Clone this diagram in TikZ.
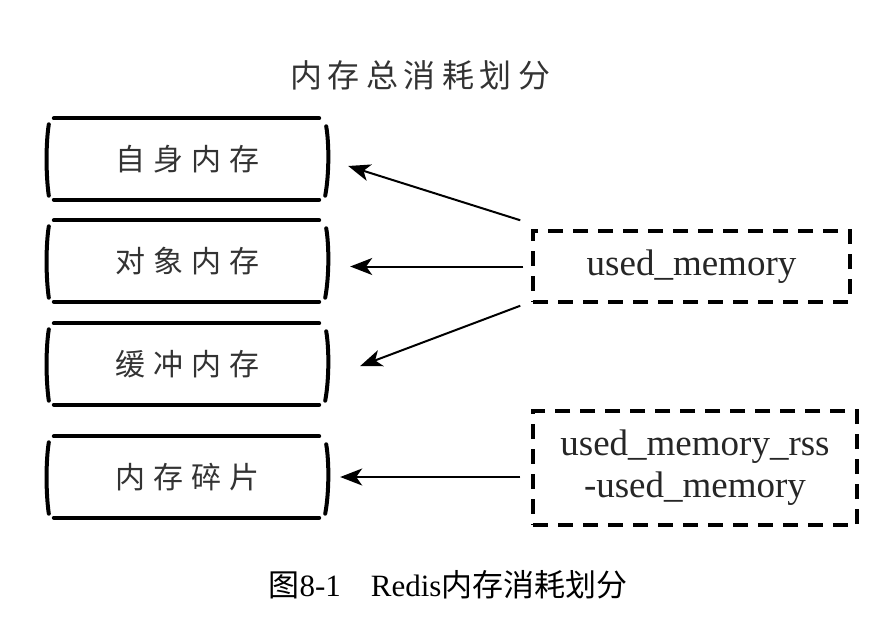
\documentclass[tikz,border=0pt]{standalone}
\usepackage{fontspec}
\setmainfont{Liberation Serif}
\newfontfamily\cjk{Noto Sans CJK SC}
\usetikzlibrary{arrows.meta}
\tikzset{
  membox/.style={minimum width=279pt, minimum height=81pt, inner sep=0pt, font=\cjk\fontsize{30}{34}\selectfont, text=black!80},
  skline/.style={line width=4pt, line cap=round},
  dbox/.style={draw, line width=3.5pt, dash pattern=on 15pt off 10pt, inner sep=0pt, font=\fontsize{37}{42}\selectfont, text=black!85, align=center},
  arr/.style={line width=2pt, -{Stealth[length=22pt,width=17pt,inset=6pt]}},
}
\begin{document}
\begin{tikzpicture}[x=1pt,y=-1pt]
\useasboundingbox (0,0) rectangle (895,619);
\node[font=\cjk\fontsize{32}{36}\selectfont, text=black!80] (title) at (420,75) {内\hspace{6pt}存\hspace{6pt}总\hspace{6pt}消\hspace{6pt}耗\hspace{6pt}划\hspace{6pt}分};
\node[membox] (b1) at (187.5,159) {自\hspace{8pt}身\hspace{8pt}内\hspace{8pt}存};
\node[membox] (b2) at (187.5,261) {对\hspace{8pt}象\hspace{8pt}内\hspace{8pt}存};
\node[membox] (b3) at (187.5,364) {缓\hspace{8pt}冲\hspace{8pt}内\hspace{8pt}存};
\node[membox] (b4) at (187.5,477) {内\hspace{8pt}存\hspace{8pt}碎\hspace{8pt}片};
\foreach \n in {b1,b2,b3,b4} {
  \draw[skline] ([xshift=6pt]\n.north west) -- ([xshift=-8pt]\n.north east);
  \draw[skline] ([xshift=6pt]\n.south west) -- ([xshift=-8pt]\n.south east);
  \draw[skline] ([shift={(1pt,-6pt)}]\n.north west) .. controls ([shift={(-2pt,-25pt)}]\n.north west) and ([shift={(-2pt,25pt)}]\n.south west) .. ([shift={(1pt,4pt)}]\n.south west);
  \draw[skline] ([shift={(-1pt,-8pt)}]\n.north east) .. controls ([shift={(2pt,-25pt)}]\n.north east) and ([shift={(2pt,25pt)}]\n.south east) .. ([shift={(-2pt,4pt)}]\n.south east);
}
\node[dbox, minimum width=317pt, minimum height=71pt] (u1) at (691.5,266.5) {used\_memory};
\node[dbox, minimum width=324pt, minimum height=114pt] (u2) at (695,468) {used\_memory\_rss\\-used\_memory};
\draw[arr] ([shift={(-11pt,9pt)}]u1.north west) -- ([shift={(21pt,-7pt)}]b1.east);
\draw[arr] ([xshift=-8pt]u1.west) -- ([xshift=23pt]b2.east |- u1.west);
\draw[arr] ([shift={(-11pt,-2pt)}]u1.south west) -- ([shift={(33pt,-2pt)}]b3.east);
\draw[arr] ([xshift=-11pt]u2.west |- b4.east) -- ([xshift=13pt]b4.east);
\node[font=\fontsize{31}{35}\selectfont] (cap) at (448,585) {{\cjk 图}8-1\hspace{30pt}Redis{\cjk 内存消耗划分}};
\end{tikzpicture}
\end{document}
